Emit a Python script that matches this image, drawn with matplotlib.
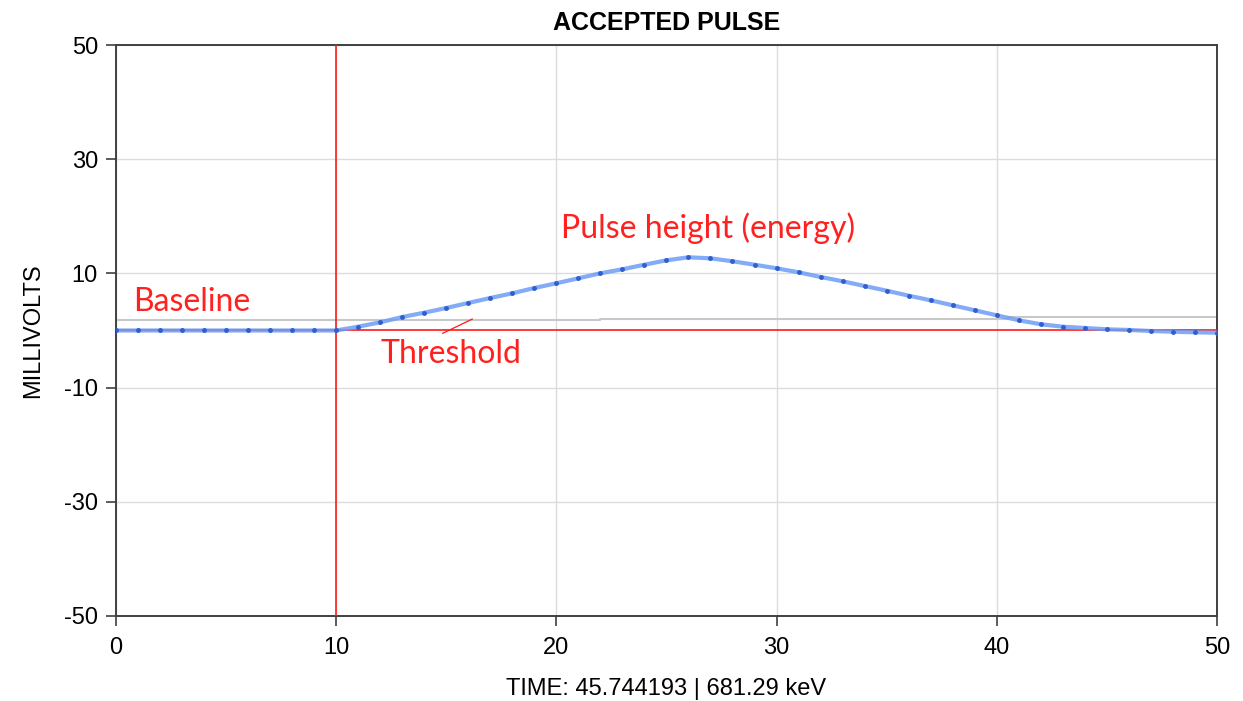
import numpy as np
import matplotlib
matplotlib.use("Agg")
import matplotlib.pyplot as plt

plt.rcParams["axes.unicode_minus"] = False

# pulse samples, one per time unit
time = list(range(0, 51))
pulse_mv = [0, 0, 0, 0, 0, 0, 0, 0, 0, 0, 0,
            0.67, 1.43, 2.36, 3.12, 3.94, 4.82, 5.69, 6.51, 7.44,
            8.27, 9.14, 10.02, 10.72, 11.52, 12.29, 12.82, 12.64, 12.12, 11.52,
            10.89, 10.19, 9.37, 8.62, 7.79, 6.97, 6.10, 5.29, 4.41, 3.54,
            2.66, 1.79, 1.09, 0.67, 0.44, 0.21, 0.09, -0.09, -0.21, -0.32, -0.39]

baseline_x = [0, 22, 22, 40.5, 40.5, 50]
baseline_y = [1.85, 1.85, 2.0, 2.0, 2.3, 2.3]
threshold = 0
trigger_time = 10
pointer_x = [14.84, 16.18]
pointer_y = [-0.5, 2.0]

x_ticks = [0, 10, 20, 30, 40, 50]
y_ticks = [50, 30, 10, -10, -30, -50]

arial = ["Liberation Sans", "DejaVu Sans"]

fig = plt.figure(figsize=(12.43, 7.01), dpi=100)
ax = fig.add_axes([0.0933, 0.1213, 0.8857, 0.8145])

ax.set_xlim(0, 50)
ax.set_ylim(-50, 50)
ax.set_xticks(x_ticks)
ax.set_yticks(y_ticks)
ax.grid(True, color="#dcdcdc", linewidth=1.0)
ax.set_axisbelow(True)

for s in ax.spines.values():
    s.set_color("#404040")
    s.set_linewidth(1.4)
ax.tick_params(axis="both", labelsize=17, length=7, width=1.2, color="#404040")
ax.tick_params(axis="x", pad=8)
ax.tick_params(axis="y", pad=6)

ax.plot(baseline_x, baseline_y, color="#c8c8c8", linewidth=1.5, zorder=2)
ax.axhline(threshold, color="#ff1a1a", linewidth=1.2, zorder=3)
ax.axvline(trigger_time, color="#ff1a1a", linewidth=1.2, zorder=3)
ax.plot(pointer_x, pointer_y, color="#ff1a1a", linewidth=0.9, zorder=3)

ax.plot(time, pulse_mv, color="#6d9df5", linewidth=3, alpha=0.85, zorder=4)
ax.plot(time, pulse_mv, linestyle="none", marker="o", markersize=2.5,
        color="#2f5fd0", zorder=5)

ann = dict(color="#ff2020", fontsize=23, family=["Lato", "DejaVu Sans"], va="center")
ax.text(0.8, 5.0, "Baseline", **ann)
ax.text(12.0, -4.1, "Threshold", **ann)
ax.text(20.2, 18.0, "Pulse height (energy)", **ann)

ax.set_title("ACCEPTED PULSE", fontsize=18, fontweight="bold", pad=11, family=arial)
ax.set_xlabel("TIME: 45.744193 | 681.29 keV", fontsize=17, labelpad=14, family=arial)
ax.set_ylabel("MILLIVOLTS", fontsize=17, labelpad=14, family=arial)
for lab in ax.get_xticklabels() + ax.get_yticklabels():
    lab.set_family(arial)

fig.savefig("out.png", dpi=100)
